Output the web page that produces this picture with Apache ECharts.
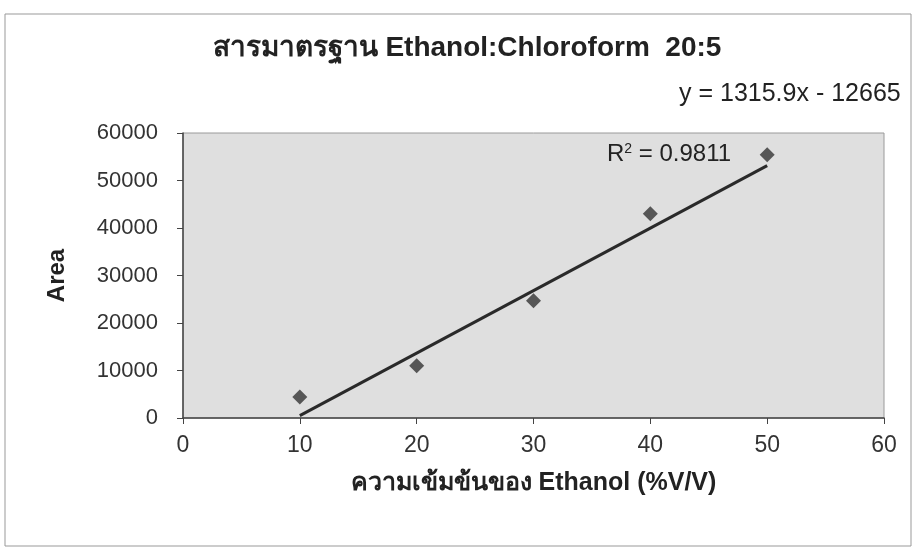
<!DOCTYPE html>
<html><head><meta charset="utf-8">
<script src="https://cdn.jsdelivr.net/npm/echarts@6/dist/echarts.min.js"></script>
<style>html,body{margin:0;padding:0;background:#fff}#c{width:915px;height:552px}</style>
</head><body><div id="c"></div>
<script>
const concentration = [10, 20, 30, 40, 50];
const area = [4400, 11000, 24700, 43000, 55400];
const trendSlope = 1315.9;
const trendIntercept = -12665;
const trendRange = [10, 50];
const xTicks = [0, 10, 20, 30, 40, 50, 60];
const yTicks = [0, 10000, 20000, 30000, 40000, 50000, 60000];

const FONT = '"Liberation Sans", Arial, "Noto Sans", sans-serif';
const chart = echarts.init(document.getElementById('c'));
const points = concentration.map((x, i) => [x, area[i]]);
const trend = trendRange.map(x => [x, trendSlope * x + trendIntercept]);

chart.setOption({
  backgroundColor: '#fff',
  animation: false,
  title: {
    text: 'สารมาตรฐาน Ethanol:Chloroform  20:5',
    left: 462, top: 29, textAlign: 'center',
    textStyle: {fontFamily: FONT, fontSize: 28, fontWeight: 'bold', color: '#222'}
  },
  graphic: [
    {type: 'rect', shape: {x: 5, y: 14, width: 906, height: 532}, style: {fill: 'none', stroke: '#999', lineWidth: 1}, silent: true, z: -1},
    {type: 'text', left: 679, top: 82, style: {text: 'y = 1315.9x - 12665', fontFamily: FONT, fontSize: 25, fill: '#222'}},
    {type: 'text', left: 607, top: 142, z: 10, style: {
      text: '{a|R}{s|2}{a| = 0.9811}', fontFamily: FONT,
      rich: {a: {fontSize: 24, fill: '#222', fontFamily: FONT}, s: {fontSize: 14, fill: '#222', fontFamily: FONT, verticalAlign: 'top', padding: [0, 0, 10, 0]}}
    }}
  ],
  grid: {left: 183, top: 133, width: 701, height: 285, show: true, backgroundColor: '#dfdfdf', borderColor: '#9a9a9a', borderWidth: 1},
  xAxis: {
    type: 'value', min: xTicks[0], max: xTicks[xTicks.length - 1], interval: 10,
    name: 'ความเข้มข้นของ Ethanol (%V/V)', nameLocation: 'middle', nameGap: 53,
    nameTextStyle: {fontFamily: FONT, fontSize: 25, fontWeight: 'bold', color: '#222'},
    axisLine: {lineStyle: {color: '#444', width: 1.5}},
    axisTick: {show: true, length: 6, lineStyle: {color: '#444'}},
    axisLabel: {fontFamily: FONT, fontSize: 23, color: '#333', margin: 16},
    splitLine: {show: false}
  },
  yAxis: {
    type: 'value', min: yTicks[0], max: yTicks[yTicks.length - 1], interval: 10000,
    name: 'Area', nameLocation: 'middle', nameGap: 114, nameRotate: 90,
    nameTextStyle: {fontFamily: FONT, fontSize: 24, fontWeight: 'bold', color: '#222'},
    axisLine: {show: true, lineStyle: {color: '#444', width: 1.5}},
    axisTick: {show: true, length: 6, lineStyle: {color: '#444'}},
    axisLabel: {fontFamily: FONT, fontSize: 22, color: '#333', margin: 25, formatter: v => String(v)},
    splitLine: {show: false}
  },
  series: [
    {type: 'line', data: trend, showSymbol: false, symbol: 'none', lineStyle: {color: '#2a2a2a', width: 3}, z: 2},
    {type: 'scatter', data: points, symbol: 'diamond', symbolSize: 15, itemStyle: {color: '#333'}, z: 3}
  ]
});
</script></body></html>
